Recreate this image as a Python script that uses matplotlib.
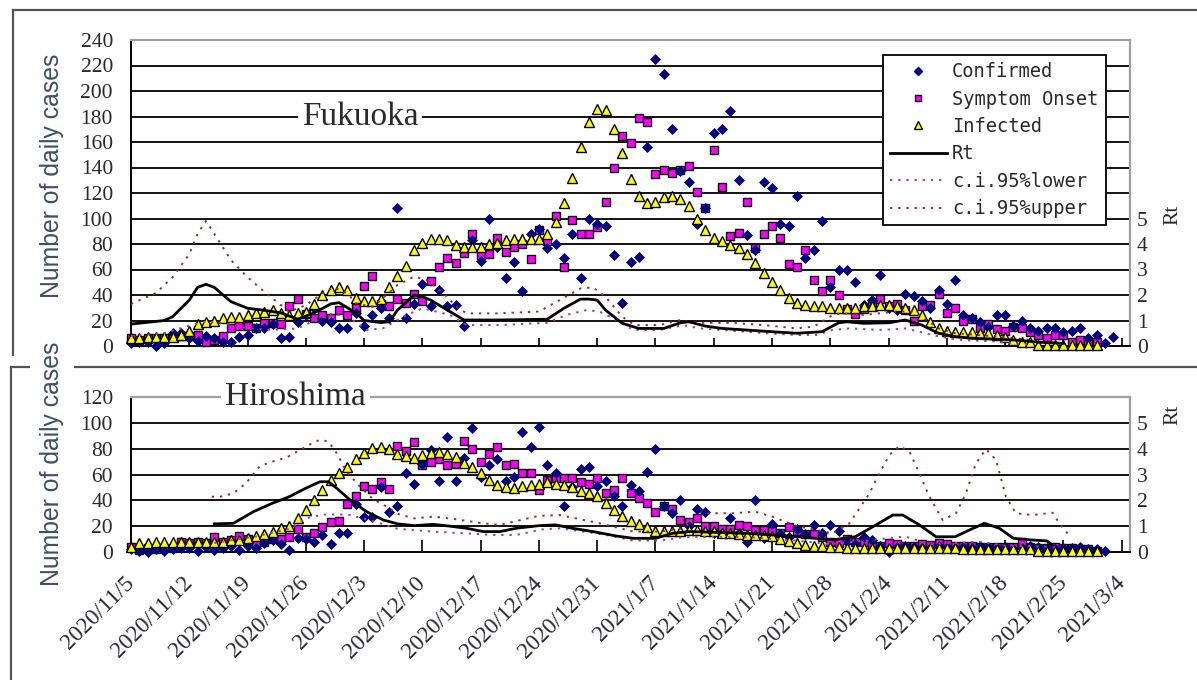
import numpy as np
import matplotlib
matplotlib.use("Agg")
import matplotlib.pyplot as plt
from matplotlib.lines import Line2D

# ---------------- data ----------------
date_labels = ["2020/11/5", "2020/11/12", "2020/11/19", "2020/11/26", "2020/12/3",
               "2020/12/10", "2020/12/17", "2020/12/24", "2020/12/31", "2021/1/7",
               "2021/1/14", "2021/1/21", "2021/1/28", "2021/2/4", "2021/2/11",
               "2021/2/18", "2021/2/25", "2021/3/4"]
tick_days = list(range(0, 120, 7))

fuk_confirmed = [2, 3, 3, 0, 2, 10, 10, 6, 4, 8, 6, 3, 3, 7, 9, 14, 14, 17, 6, 7,
                 19, 24, 30, 20, 19, 14, 14, 26, 16, 24, 30, 22, 108, 22, 33, 49, 31, 44, 31, 32,
                 16, 83, 67, 100, 78, 53, 66, 43, 88, 92, 77, 80, 69, 88, 53, 100, 96, 94, 71, 34,
                 66, 70, 156, 225, 213, 170, 137, 129, 96, 108, 167, 170, 184, 130, 87, 75, 129, 124, 96, 94,
                 118, 69, 75, 98, 46, 60, 60, 50, 32, 36, 56, 30, 28, 41, 39, 35, 30, 44, 33, 52,
                 24, 22, 19, 15, 24, 24, 16, 20, 14, 12, 14, 14, 11, 12, 14, 6, 9, 2, 7]
fuk_onset = [6, 5, 6, 6, 6, 7, 8, 8, 9, 3, 5, 8, 14, 16, 16, 14, 18, 18, 17, 31,
             37, 25, 22, 24, 22, 28, 24, 30, 47, 55, 33, 31, 37, 34, 41, 35, 51, 62, 69, 65,
             73, 88, 71, 72, 85, 74, 78, 80, 68, 91, 82, 102, 62, 99, 88, 88, 93, 113, 140, 165,
             159, 179, 176, 135, 138, 136, 138, 141, 121, 108, 154, 125, 86, 89, 113, 77, 88, 94, 85, 64,
             62, 75, 52, 43, 52, 40, 29, 25, 29, 34, 37, 31, 33, 28, 20, 31, 32, 41, 26, 30,
             20, 21, 14, 17, 13, 12, 15, 14, 11, 9, 6, 9, 9, 3, 5, 3, 3, None, None]
fuk_infected = [6, 6, 7, 7, 7, 7, 9, 12, 17, 19, 20, 22, 23, 23, 24, 26, 27, 28, 26, 24,
                26, 27, 33, 40, 44, 46, 44, 38, 35, 35, 37, 46, 55, 63, 75, 81, 84, 84, 83, 79,
                78, 78, 78, 80, 81, 83, 84, 84, 84, 84, 88, 97, 112, 132, 156, 176, 186, 185, 170, 151,
                131, 118, 112, 113, 117, 118, 115, 110, 100, 91, 85, 82, 79, 77, 72, 65, 57, 50, 44, 38,
                34, 32, 31, 31, 30, 30, 30, 30, 31, 31, 32, 32, 31, 30, 28, 24, 19, 14, 12, 11,
                11, 11, 10, 10, 9, 7, 5, 3, 3, 1, 0.5, 0.5, 0.5, 0.5, 0.5, 0.5, 0.5, None, None]

fuk_rt_day = [0, 4, 5, 7, 8, 9, 10, 12, 14, 16, 18, 20, 22, 24, 25, 27, 28, 30, 31, 32,
              34, 35, 36, 38, 40, 44, 50, 52, 54, 55, 56, 57, 59, 61, 64, 66, 67, 69, 71, 77,
              80, 83, 85, 86, 88, 91, 93, 95, 97, 99, 101, 106, 109, 112]
fuk_rt = [0.86, 1.0, 1.15, 1.8, 2.3, 2.42, 2.3, 1.74, 1.48, 1.4, 1.3, 1.05, 1.3, 1.65, 1.7, 1.3, 1.0, 0.92, 0.95, 1.4,
          2.0, 1.93, 1.8, 1.41, 1.02, 1.02, 1.05, 1.48, 1.84, 1.84, 1.8, 1.41, 0.89, 0.69, 0.69, 0.91, 0.95, 0.78, 0.69, 0.56,
          0.5, 0.56, 0.91, 0.95, 0.89, 0.91, 1.02, 0.82, 0.5, 0.37, 0.3, 0.24, 0.15, 0.1]
fuk_up_day = [0, 3, 5, 7, 8, 9, 10, 12, 14, 16, 17.5, 19, 21, 23, 24.3, 26, 27, 29, 30, 32,
              34, 35.5, 37.5, 39.5, 40.5, 44, 49, 51.5, 54, 55.5, 57, 59, 60.5, 63.5, 66, 68, 72, 76,
              80, 82, 83, 84.3, 85.5, 88, 92, 94, 95.5, 97, 99, 104, 108, 111.5]
fuk_up = [1.65, 2.08, 2.7, 3.6, 4.4, 4.9, 4.4, 3.37, 2.7, 2.13, 1.74, 1.35, 1.6, 2.07, 2.3, 2.07, 1.67, 1.54, 1.8, 2.39,
          2.72, 2.59, 2.07, 1.41, 1.28, 1.28, 1.35, 1.8, 2.26, 2.3, 1.93, 1.15, 0.82, 0.82, 1.02, 0.91, 0.91, 0.82,
          0.69, 0.76, 0.95, 1.22, 1.28, 1.22, 1.35, 1.35, 1.02, 0.69, 0.5, 0.37, 0.24, 0.1]
fuk_lo_day = [0, 4, 7, 9, 11, 14, 17, 20, 22.7, 24.3, 26.7, 28.3, 30.3, 33, 35, 38.3, 40.3, 44.3, 50, 52.3,
              54.7, 56.3, 58.7, 60.3, 63.5, 66.3, 68.3, 76.3, 80, 82.3, 84.3, 86.3, 90.3, 93.1, 94.7, 97.1, 99.5,
              104.3, 108.3]
fuk_lo = [0.4, 0.5, 0.8, 0.95, 0.9, 0.7, 0.63, 0.69, 1.1, 1.29, 1.0, 0.63, 0.7, 1.2, 1.48, 1.22, 0.82, 0.82, 0.91, 1.22,
          1.41, 1.35, 0.95, 0.63, 0.63, 0.82, 0.69, 0.5, 0.43, 0.43, 0.63, 0.69, 0.63, 0.69, 0.56, 0.37, 0.24,
          0.17, 0.04]

hir_confirmed = [2, 1, 0, 2, 1, 2, 3, 3, 1, 4, 1.5, 3, 5, 1.5, 5, 3, 7, 9, 6, 1.5,
                 11, 10, 8, 13, 6, 15, 15, 37, 27, 27, 50, 31, 36, 61, 53, 68, 79, 55, 89, 55,
                 73, 96, 58, 67, 72, 55, 58, 93, 81, 97, 67, 61, 36, 50, 64, 66, 51, 55, 43, 36,
                 52, 47, 62, 80, 36, 30, 40, 20, 33, 31, 15, 15, 26, 15, 8, 40, 11, 22, 14, 12,
                 18, 14, 21, 15, 21, 16, 8, 6, 12, 9, 5, 0, 4, 5, 4, 3, 3, 5, 4, 3,
                 4, 3, 5, 4, 3, 4, 2, 3, 5, 4, 3, 2, 3, 3, 4, 2, 2, 1, None]
hir_onset = [4, 1.5, 3, 2, 3.4, 3.4, 8, 7, 8, 7, 12, 8, 9, 12.6, 10, 6, 8, 10, 10, 12,
             18, 12, 15, 19, 23, 24, 37, 43, 51, 49, 54, 49, 82, 78, 85, 67, 70, 72, 67, 68,
             86, 80, 70, 76, 81, 67, 68, 61, 61, 48, 56, 57, 57, 57, 54, 53, 57, 46, 48, 57,
             46, 42, 38, 31, 36, 33, 25, 23, 26, 20, 20, 18, 18, 21, 20, 17, 17, 16, 15, 19,
             16, 14, 14, 12, 8, 7, 10, 8, 8, 5, 5, 7, 6.5, 5, 5, 6.5, 5.7, 7, 6.5, 5,
             5, 5, 4, 4, 4, 4, 4, 8, 4, 3, 3, 4, 3, 3, 2, 2, 1, None, None]
hir_infected = [3.6, 6.7, 7.2, 8, 8, 8, 8, 8, 8, 8, 8, 8, 9.3, 9.3, 10.6, 12.4, 14, 15.7, 18.3, 20.4,
                26, 32.6, 40.3, 48, 55.8, 61, 66, 71.8, 77, 80.4, 81.6, 79.6, 76, 74, 72.6, 75, 76.5, 77.8, 76, 73.4,
                69, 65.6, 61.5, 55.8, 52, 50, 49.4, 51, 52, 53, 54.5, 53, 52, 50, 47.5, 45.5, 43, 38, 32.6, 28,
                24.3, 21.7, 19, 16.5, 16.5, 16, 16.5, 17, 17, 16, 16, 15, 14.7, 14.2, 13.4, 13.4, 13.4, 12.7, 10.3, 8.3,
                7, 5.5, 5, 4.5, 4, 3.5, 3, 3, 3, 3, 3, 3, 3, 3, 3, 3, 3, 3, 3, 3,
                2.5, 2.5, 2.5, 2.5, 2.5, 2, 2, 2, 2, 1, 0.5, 0.5, 0.5, 0.5, 0.5, 0.5, 0.5, None, None]

hir_rt_day = [10, 12.3, 14.7, 17, 19, 21, 22.7, 23.7, 24.7, 26.3, 28.3, 30.3, 32, 34, 36.3, 38.3, 40.3, 42.3, 44.3, 46.3,
              49, 51, 53, 55.5, 58.3, 60.3, 63, 65, 67, 70.3, 74.3, 78.3, 80.3, 84.3, 87, 89.5, 91.5, 92.7, 94.7, 96.7,
              99, 100.7, 102.5, 104.3, 106, 108, 110, 110.7]
hir_rt = [1.09, 1.11, 1.56, 1.89, 2.14, 2.47, 2.72, 2.72, 2.47, 2.02, 1.56, 1.24, 1.09, 1.02, 1.07, 1.0, 0.92, 0.79, 0.79, 0.92,
          1.02, 1.05, 0.92, 0.79, 0.62, 0.53, 0.53, 0.72, 0.79, 0.76, 0.72, 0.63, 0.59, 0.47, 0.59, 1.05, 1.43, 1.43, 1.05, 0.59,
          0.59, 0.85, 1.11, 0.92, 0.53, 0.47, 0.43, 0.27]
hir_up_day = [9.7, 10.7, 12.3, 13.8, 15.5, 17, 18.7, 20.3, 21.9, 22.7, 23.7, 24.7, 25.9, 27.5, 29.1, 30.7, 32, 34, 36.3, 38.3,
              42.3, 44.3, 49, 51.5, 53.5, 56.3, 58.7, 60.3, 63.5, 66.3, 69, 72.3, 75, 77, 80, 84.3, 86.3, 87.5, 88.7, 89.9,
              91.1, 92.3, 93.5, 94.7, 95.9, 97.5, 99.1, 100.3, 101.5, 102.7, 103.9, 105.1, 106.3, 108.3, 110.7, 111.5, 112.5]
hir_up = [2.14, 2.14, 2.27, 2.66, 3.33, 3.5, 3.66, 3.95, 4.24, 4.34, 4.28, 3.83, 3.11, 2.53, 2.04, 1.76, 1.48, 1.3, 1.37, 1.3,
          1.11, 1.05, 1.4, 1.43, 1.3, 1.11, 0.92, 0.79, 0.79, 0.92, 1.5, 1.5, 1.56, 1.37, 1.0, 0.72, 1.11, 1.69, 2.27, 3.05,
          3.76, 4.1, 3.89, 3.05, 2.14, 1.24, 1.5, 2.27, 3.44, 3.98, 3.57, 2.14, 1.5, 1.43, 1.52, 1.11, 0.72]
hir_lo_day = [10, 15, 19, 21, 23, 26, 29, 32, 36.3, 40.3, 43.5, 46.3, 49.5, 51.5, 54.3, 57.1, 60.3, 63.5, 66.3, 70.3,
              74.3, 80, 84, 90, 93, 96, 102, 105, 111]
hir_lo = [0.35, 0.6, 0.9, 1.3, 1.45, 1.45, 1.2, 0.9, 0.79, 0.72, 0.66, 0.66, 0.88, 0.92, 0.79, 0.66, 0.44, 0.44, 0.57, 0.59,
          0.57, 0.44, 0.3, 0.5, 0.6, 0.3, 0.4, 0.25, 0.2]

# ---------------- styling ----------------
SERIF = ["Liberation Serif", "DejaVu Serif"]
TXT = "#2a2a2a"
NAVY = "#000080"
MAG = "#FF00FF"
YEL = "#FFFF00"
UPC = "#9B2B2B"
LOC = "#A040A0"
W, H = 1197, 680


def panel(ax, confirmed, onset, infected, rt_d, rt, up_d, up, lo_d, lo, ymax, name, name_xy):
    days = np.arange(len(confirmed))
    ax.set_xlim(0, 120)
    ax.set_ylim(0, ymax)
    yt = list(range(0, ymax + 1, 20))
    for v in yt[1:-1]:
        ax.axhline(v, color="black", lw=1.3, zorder=0.5)
    ax.plot(days, np.array(onset, dtype=float), ls="none", marker="s", ms=5.6, mfc=MAG, mec="black",
            mew=1.0, clip_on=False, zorder=3)
    ax.plot(days, np.array(confirmed, dtype=float), ls="none", marker="D", ms=4.6, mfc=NAVY, mec=NAVY,
            mew=0.5, clip_on=False, zorder=3.1)
    ax.plot(days, np.array(infected, dtype=float), ls="none", marker="^", ms=7.2, mfc=YEL, mec="black",
            mew=1.0, clip_on=False, zorder=3.2)
    ax.set_yticks(yt)
    ax.set_yticklabels([str(v) for v in yt], family=SERIF, fontsize=15.5, color=TXT)
    ax.tick_params(axis="y", length=0, pad=13)
    ax.set_xticks(tick_days)
    ax.tick_params(axis="x", direction="in", length=6, width=1.2, color="black")
    for s in ("left", "bottom"):
        ax.spines[s].set_color("black")
        ax.spines[s].set_linewidth(1.4)
    for s in ("top", "right"):
        ax.spines[s].set_color("#a0a0a0")
        ax.spines[s].set_linewidth(1.6)
    ax.text(name_xy[0], name_xy[1], name, family=SERIF, fontsize=24, color=TXT, ha="center", va="center",
            zorder=4, bbox=dict(facecolor="white", edgecolor="none", pad=3))

    ax2 = ax.twinx()
    ax2.set_ylim(0, ymax / 20)
    ax2.set_yticks(range(0, 6))
    ax2.set_yticklabels([str(v) for v in range(0, 6)], family=SERIF, fontsize=15.5, color=TXT)
    ax2.tick_params(axis="y", length=0, pad=5)
    for s in ax2.spines.values():
        s.set_visible(False)
    ax2.plot(lo_d, lo, color=LOC, lw=1.4, dashes=(1.2, 3.0))
    ax2.plot(up_d, up, color=UPC, lw=1.4, dashes=(1.2, 3.0))
    ax2.plot(rt_d, rt, color="black", lw=2.0)
    return ax2


fig = plt.figure(figsize=(W / 100, H / 100), dpi=100)
ax_top = fig.add_axes([131 / W, 1 - 346 / H, 999 / W, 306 / H])
ax_bot = fig.add_axes([131 / W, 1 - 552 / H, 999 / W, 155 / H])

t2 = panel(ax_top, fuk_confirmed, fuk_onset, fuk_infected, fuk_rt_day, fuk_rt, fuk_up_day, fuk_up,
           fuk_lo_day, fuk_lo, 240, "Fukuoka", (27.5, 180))
b2 = panel(ax_bot, hir_confirmed, hir_onset, hir_infected, hir_rt_day, hir_rt, hir_up_day, hir_up,
           hir_lo_day, hir_lo, 120, "Hiroshima", (19.8, 120))

ax_top.tick_params(axis="x", labelbottom=False)
ax_bot.set_xticklabels(date_labels, rotation=45, ha="right", va="center", rotation_mode="anchor",
                       family=SERIF, fontsize=16.8, color="#2a2a3a")
ax_bot.tick_params(axis="x", pad=20, length=9)

# axis titles
ax_top.text(-0.079, 0.556, "Number of daily cases", transform=ax_top.transAxes, rotation=90,
            ha="center", va="center", family=["Liberation Sans", "DejaVu Sans"], fontsize=17.8, color="#3b4f6b")
ax_bot.text(-0.079, 0.568, "Number of daily cases", transform=ax_bot.transAxes, rotation=90,
            ha="center", va="center", family=["Liberation Sans", "DejaVu Sans"], fontsize=17.8, color="#3b4f6b",
            zorder=10, bbox=dict(facecolor="white", edgecolor="none", pad=7))
t2.text(1.043, 0.428, "Rt", transform=t2.transAxes, rotation=90, ha="center", va="center",
        family=SERIF, fontsize=15.5, color=TXT)
b2.text(1.043, 0.884, "Rt", transform=b2.transAxes, rotation=90, ha="center", va="center",
        family=SERIF, fontsize=15.5, color=TXT)

# legend (top panel)
handles = [
    Line2D([], [], ls="none", marker="D", ms=4.2, mfc=NAVY, mec=NAVY),
    Line2D([], [], ls="none", marker="s", ms=5.0, mfc=MAG, mec="black", mew=1.0),
    Line2D([], [], ls="none", marker="^", ms=6.2, mfc=YEL, mec="black", mew=1.0),
    Line2D([], [], color="black", lw=2.0),
    Line2D([], [], color=LOC, lw=1.4, dashes=(1.2, 3.0)),
    Line2D([], [], color=UPC, lw=1.4, dashes=(1.2, 3.0)),
]
labels = ["Confirmed", "Symptom Onset", "Infected", "Rt", "c.i.95%lower", "c.i.95%upper"]
leg = t2.legend(handles, labels, loc="upper left", bbox_to_anchor=(0.753, 0.951), borderaxespad=0,
                prop={"family": "DejaVu Sans Mono", "size": 13.5}, frameon=True, fancybox=False,
                framealpha=1, edgecolor="black", handlelength=3.0, handletextpad=0.3,
                labelspacing=0.45, borderpad=0.38)
leg.get_frame().set_linewidth(1.3)
for t in leg.get_texts():
    t.set_color(TXT)

# outer frames around the two panels
fl = dict(color="#555555", lw=1.6, transform=fig.transFigure, zorder=-1)
fig.add_artist(Line2D([13 / W, 1], [1 - 10 / H, 1 - 10 / H], **fl))
fig.add_artist(Line2D([13 / W, 13 / W], [1 - 10 / H, 1 - 355 / H], **fl))
fig.add_artist(Line2D([11 / W, 1], [1 - 367 / H, 1 - 367 / H], **fl))
fig.add_artist(Line2D([11 / W, 11 / W], [1 - 367 / H, 0], **fl))

fig.savefig("out.png", dpi=100, facecolor="white")
